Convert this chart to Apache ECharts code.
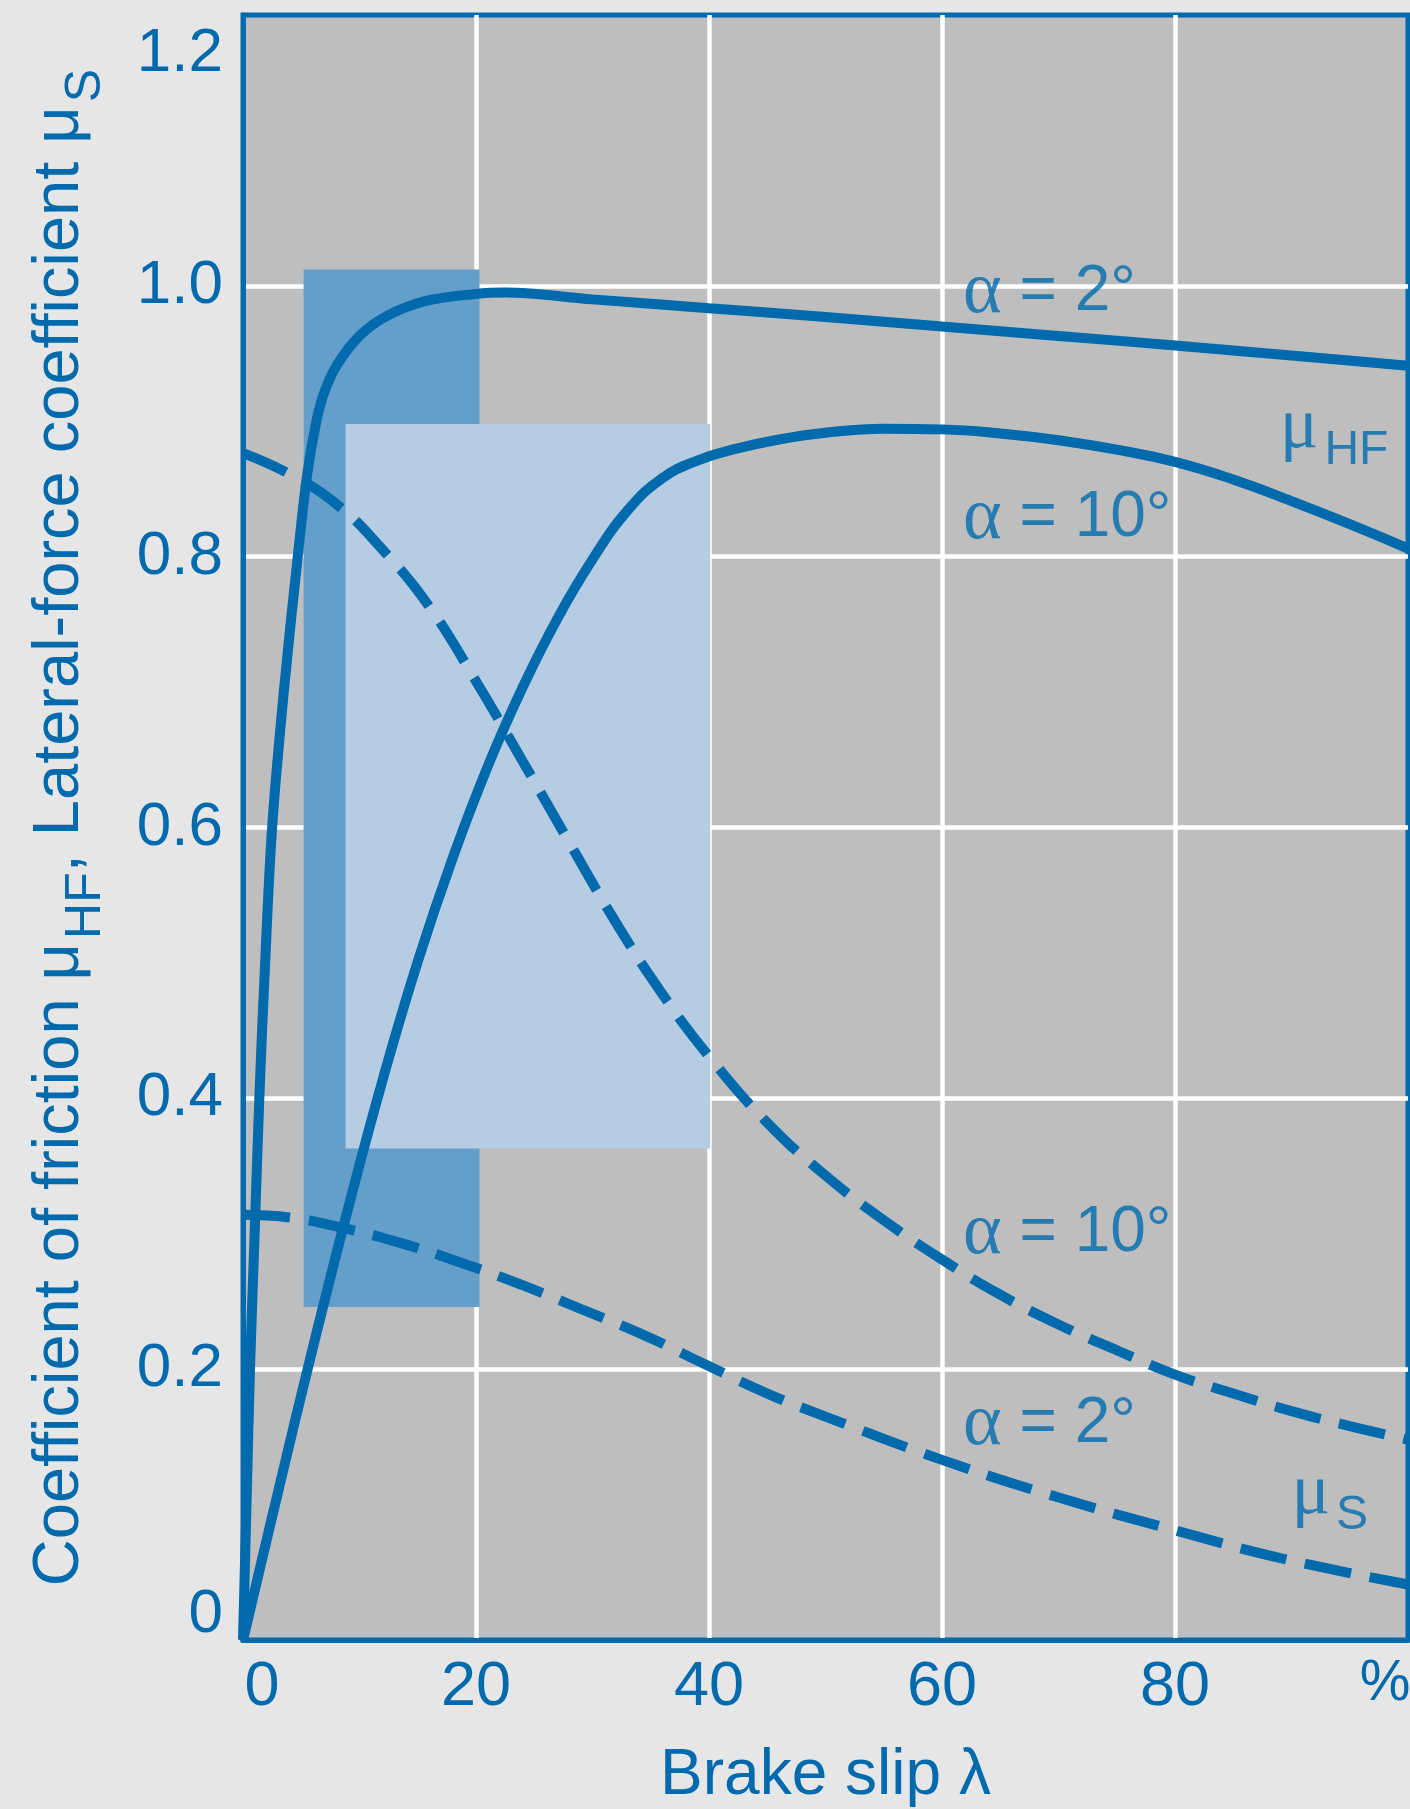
<!DOCTYPE html>
<html><head><meta charset="utf-8">
<script src="https://cdn.jsdelivr.net/npm/echarts@6/dist/echarts.min.js"></script>
<style>html,body{margin:0;padding:0;background:#e6e6e6;}#c{width:1410px;height:1809px;}</style>
</head><body><div id="c"></div>
<script>
// ---- data ----
const xTicks = [0, 20, 40, 60, 80, 100];
const xTickLabels = ['0', '20', '40', '60', '80', '%'];
const yTickLabels = ['0', '0.2', '0.4', '0.6', '0.8', '1.0', '1.2'];

// coefficient of friction mu_HF, alpha = 2 deg (solid)
const muHF2 = [[0,0],[0.3,0.1],[0.6,0.2],[1.0,0.3],[1.4,0.4],[1.9,0.5],[2.5,0.6],[3.5,0.7],[4.7,0.8],[5.5,0.86],[6.3,0.9],[7.0,0.922],[8.1,0.942],[10,0.963],[12.4,0.978],[15.8,0.989],[20,0.994],[22.5,0.995],[30,0.990],[40,0.9835],[50,0.977],[60,0.970],[70,0.963],[80,0.956],[90,0.9485],[100,0.941]];
// coefficient of friction mu_HF, alpha = 10 deg (solid)
const muHF10 = [[0,0],[3,0.109],[6,0.216],[9,0.318],[12,0.414],[15,0.501],[18,0.5775],[21,0.645],[24,0.7035],[27,0.7545],[30,0.798],[33,0.834],[36,0.858],[39,0.871],[42,0.879],[46,0.8865],[50,0.8915],[55,0.8945],[60,0.894],[65,0.891],[70,0.886],[75,0.879],[80,0.870],[85,0.857],[90,0.841],[95,0.824],[100,0.806]];
// lateral-force coefficient mu_S, alpha = 10 deg (dashed)
const muS10 = [[0,0.8765],[4,0.861],[8,0.839],[12,0.805],[16,0.763],[20,0.708],[24,0.649],[28,0.589],[32,0.530],[36,0.477],[40,0.431],[45,0.382],[50,0.343],[55,0.310],[60,0.281],[65,0.255],[70,0.233],[75,0.214],[80,0.196],[85,0.182],[90,0.169],[95,0.158],[100,0.148]];
// lateral-force coefficient mu_S, alpha = 2 deg (dashed)
const muS2 = [[0,0.314],[4,0.312],[7.7,0.306],[13.2,0.294],[18.6,0.279],[24,0.262],[29.2,0.2437],[34.7,0.224],[39.8,0.203],[45,0.182],[50,0.165],[60,0.133],[70.1,0.105],[80,0.081],[89.3,0.06],[100,0.041]];

// shaded ranges [xFrom, xTo, yFrom, yTo]
const rectDark = [5.2, 20.3, 0.246, 1.012];
const rectLight = [8.8, 40.1, 0.363, 0.898];

// curve annotations
const annoX = [61.8, 61.8, 61.8, 61.8, 89.0, 90.0];
const annoY = [0.995, 0.828, 0.300, 0.159, 0.891, 0.104];
const annoText = ['{a|α} = 2°', '{a|α} = 10°', '{a|α} = 10°', '{a|α} = 2°', '{m|μ}{s|HF}', '{m|μ}{s|S}'];

// ---- chart ----
const BLUE = '#006aad';
const FONT = '"Liberation Sans", Arial, Helvetica, sans-serif';
const SERIF = '"Liberation Serif", "Times New Roman", serif';
const chart = echarts.init(document.getElementById('c'), null, {renderer: 'canvas'});

const rectColors = ['#649fcb', '#b5cce3'];

const option = {
  backgroundColor: '#e6e6e6',
  animation: false,
  grid: {left: 243, top: 15, width: 1165, height: 1625, show: true,
         outerBoundsMode: 'none', containLabel: false,
         backgroundColor: '#bebebe', borderColor: BLUE, borderWidth: 5},
  xAxis: {
    type: 'value', min: 0, max: 100, interval: 20,
    axisLine: {show: true, lineStyle: {color: BLUE, width: 5}},
    axisTick: {show: false},
    splitLine: {show: true, showMinLine: false, showMaxLine: false, lineStyle: {color: '#ffffff', width: 4.5}},
    axisLabel: {
      color: BLUE, fontSize: 63, fontFamily: FONT, margin: 16,
      formatter: v => {
        const t = xTickLabels[xTicks.indexOf(v)];
        if (v === 0) return '{l|' + t + '}';
        if (v === 100) return '{r|' + t + '}';
        return t;
      },
      rich: {
        l: {padding: [0, 0, 0, 38], fontSize: 63, fontFamily: FONT, color: BLUE},
        r: {padding: [0, 46, 0, 0], fontSize: 57, fontFamily: FONT, color: BLUE}
      }
    },
    name: 'Brake slip λ', nameLocation: 'middle', nameGap: 104,
    nameTextStyle: {color: BLUE, fontSize: 64, fontFamily: FONT}
  },
  yAxis: {
    type: 'value', min: 0, max: 1.2, interval: 0.2,
    axisLine: {show: true, lineStyle: {color: BLUE, width: 5}},
    axisTick: {show: false},
    splitLine: {show: true, showMinLine: false, showMaxLine: false, lineStyle: {color: '#ffffff', width: 4.5}},
    axisLabel: {
      color: BLUE, fontSize: 62, fontFamily: FONT, margin: 20,
      formatter: v => {
        const i = Math.round(v / 0.2);
        const t = yTickLabels[i];
        if (i === 0) return '{z|' + t + '}';
        if (i === yTickLabels.length - 1) return '{top|' + t + '}';
        return t;
      },
      rich: {
        z: {padding: [0, 0, 50, 0], fontSize: 62, fontFamily: FONT, color: BLUE},
        top: {padding: [78, 0, 0, 0], fontSize: 62, fontFamily: FONT, color: BLUE}
      }
    },
    name: '{t|Coefficient of friction μ}{s|HF}{t|, Lateral-force coefficient μ}{s|S}',
    nameLocation: 'middle', nameGap: 132, nameRotate: 90,
    nameTextStyle: {
      color: BLUE, fontSize: 65, fontFamily: FONT,
      rich: {
        t: {fontSize: 65, lineHeight: 66, fontFamily: FONT, color: BLUE, verticalAlign: 'top'},
        s: {fontSize: 50, fontFamily: FONT, color: BLUE, verticalAlign: 'bottom', padding: [33, 0, 0, 4]}
      }
    }
  },
  series: [
    {
      type: 'custom', z: 1, silent: true,
      encode: {x: [0, 1], y: [2, 3]},
      data: [rectDark, rectLight],
      renderItem: (params, api) => {
        const p0 = api.coord([api.value(0), api.value(3)]);
        const p1 = api.coord([api.value(1), api.value(2)]);
        return {type: 'rect', shape: {x: p0[0], y: p0[1], width: p1[0] - p0[0], height: p1[1] - p0[1]},
                style: {fill: rectColors[params.dataIndex]}};
      }
    },
    {type: 'line', data: muHF2, showSymbol: false, smooth: 0.35, z: 3, silent: true,
     lineStyle: {color: BLUE, width: 10}},
    {type: 'line', data: muHF10, showSymbol: false, smooth: 0.45, z: 3, silent: true,
     lineStyle: {color: BLUE, width: 10}},
    {type: 'line', data: muS10, showSymbol: false, smooth: 0.45, z: 3, silent: true,
     lineStyle: {color: BLUE, width: 10, type: [47, 19], cap: 'butt'}},
    {type: 'line', data: muS2, showSymbol: false, smooth: 0.45, z: 3, silent: true,
     lineStyle: {color: BLUE, width: 10, type: [47, 19], cap: 'butt'}},
    {
      type: 'scatter', symbolSize: 0, z: 5, silent: true,
      data: annoX.map((x, i) => ({value: [x, annoY[i]], label: {formatter: annoText[i]}})),
      label: {
        show: true, position: 'right', distance: 0, color: BLUE, fontSize: 64, fontFamily: FONT,
        rich: {
          a: {fontSize: 74, fontFamily: SERIF, color: BLUE},
          m: {fontSize: 72, lineHeight: 64, fontFamily: SERIF, color: BLUE, verticalAlign: 'top'},
          s: {fontSize: 48, fontFamily: FONT, color: BLUE, verticalAlign: 'bottom', padding: [34, 0, 0, 6]}
        }
      }
    }
  ]
};
chart.setOption(option);
</script>
</body></html>
